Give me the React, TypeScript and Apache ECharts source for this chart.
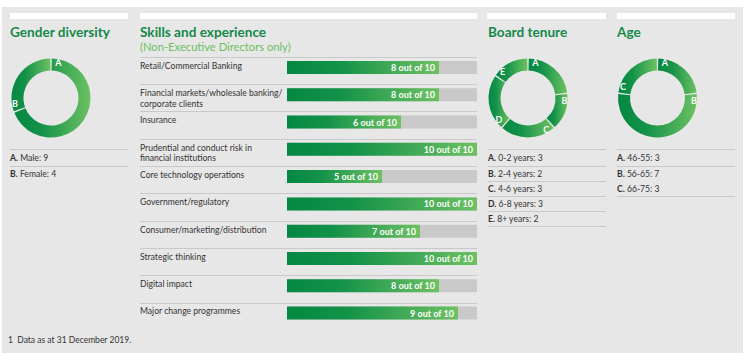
import React, { useEffect, useRef } from 'react';
import * as echarts from 'echarts';

const skillCategories = [
  'Retail/Commercial Banking',
  'Financial markets/wholesale banking/\ncorporate clients',
  'Insurance',
  'Prudential and conduct risk in\nfinancial institutions',
  'Core technology operations',
  'Government/regulatory',
  'Consumer/marketing/distribution',
  'Strategic thinking',
  'Digital impact',
  'Major change programmes',
];
const skillValues = [8, 8, 6, 10, 5, 10, 7, 10, 8, 9];
const skillMax = 10;

const genderNames = ['Male', 'Female'];
const genderValues = [9, 4];
const tenureNames = ['0-2 years', '2-4 years', '4-6 years', '6-8 years', '8+ years'];
const tenureValues = [3, 2, 3, 3, 2];
const ageNames = ['46-55', '56-65', '66-75'];
const ageValues = [3, 7, 3];
const letters = ['A', 'B', 'C', 'D', 'E'];

const titles = ['Gender diversity', 'Skills and experience', 'Board tenure', 'Age'];
const subtitle = '(Non-Executive Directors only)';
const footnote = '1  Data as at 31 December 2019.';

const FONT = 'Lato, "Noto Sans", sans-serif';
const BG = '#e7e7e7';
const TITLE_GREEN = '#15894a';
const LIGHT_GREEN = '#6cbf5f';
const TEXT = '#333333';
const LINE = '#c9c9c9';

const grad = () =>
  new echarts.graphic.LinearGradient(0, 0, 1, 0, [
    { offset: 0, color: '#048842' },
    { offset: 0.35, color: '#139249' },
    { offset: 1, color: '#6dc162' },
  ]);

const RADIUS = [27.5, 39.5];

function pieSeries(values: number[], center: number[]) {
  const total = values.reduce((a, b) => a + b, 0);
  const off = (total * 23) / 360;
  const ring = {
    type: 'pie',
    center,
    radius: RADIUS,
    startAngle: 90,
    padAngle: 2.2,
    silent: true,
    label: { show: false },
    labelLine: { show: false },
    emphasis: { disabled: true },
    data: values.map((v, i) => ({ value: v, name: letters[i], itemStyle: { color: grad() } })),
  };
  const overlay = {
    type: 'pie',
    center,
    radius: RADIUS,
    startAngle: 90,
    silent: true,
    z: 3,
    emphasis: { disabled: true },
    itemStyle: { color: 'rgba(0,0,0,0)' },
    labelLine: { show: false },
    label: {
      show: true,
      position: 'inside',
      color: '#ffffff',
      fontSize: 9,
      fontWeight: 'bold',
      fontFamily: FONT,
      formatter: (p: any) => p.data.letter || '',
    },
    data: values.flatMap((v, i) => [
      { value: off, letter: letters[i] },
      { value: v - off, letter: '', label: { show: false } },
    ]),
  };
  return [ring, overlay];
}

function legendGraphics(x: number, names: string[], values: number[], sepAfter: boolean[]) {
  const els: any[] = [];
  const w = 118;
  const lineY = (i: number) => (i === 0 ? 166 : 166 + 15 * i);
  els.push({ type: 'line', shape: { x1: x, y1: 149.5, x2: x + w, y2: 149.5 }, style: { stroke: LINE, lineWidth: 1 } });
  names.forEach((n, i) => {
    const ty = i === 0 ? 157.5 : 173.5 + 15 * (i - 1);
    els.push({
      type: 'text',
      x,
      y: ty,
      style: {
        text: `{b|${letters[i]}.} ${n}: ${values[i]}`,
        rich: { b: { fontWeight: 'bold', fontSize: 8.6, fontFamily: FONT, fill: TEXT, color: TEXT } },
        fontSize: 8.6,
        fontFamily: FONT,
        fill: TEXT,
        textVerticalAlign: 'middle',
        verticalAlign: 'middle',
      },
    });
    if (sepAfter[i]) {
      const ly = lineY(i) + 0.5;
      els.push({ type: 'line', shape: { x1: x, y1: ly, x2: x + w, y2: ly }, style: { stroke: LINE, lineWidth: 1 } });
    }
  });
  return els;
}

export default function App() {
  const ref = useRef<HTMLDivElement>(null);
  useEffect(() => {
    document.body.style.margin = '0';
    const chart = echarts.init(ref.current!, null, { renderer: 'svg' });
    const barWidth = 13;
    chart.setOption({
      animation: false,
      backgroundColor: '#ffffff',
      grid: { left: 287, right: 273, top: 53.75, bottom: 34.25, containLabel: false },
      xAxis: { type: 'value', min: 0, max: skillMax, show: false },
      yAxis: { type: 'category', data: skillCategories, inverse: true, show: false },
      series: [
        {
          type: 'bar',
          data: skillCategories.map(() => skillMax),
          barWidth,
          silent: true,
          itemStyle: { color: '#c9c9c9' },
          label: {
            show: true,
            position: [-147, -0.4],
            align: 'left',
            verticalAlign: 'top',
            formatter: '{b}',
            color: TEXT,
            fontSize: 8.6,
            lineHeight: 10.5,
            fontFamily: FONT,
          },
        },
        {
          type: 'bar',
          data: skillValues,
          barWidth,
          barGap: '-100%',
          silent: true,
          itemStyle: { color: grad() },
          label: {
            show: true,
            position: 'insideRight',
            distance: 4,
            formatter: (p: any) => `${p.value} out of ${skillMax}`,
            color: '#ffffff',
            fontSize: 9,
            fontWeight: 'bold',
            fontFamily: FONT,
          },
        },
        ...pieSeries(genderValues, [51, 98]),
        ...pieSeries(tenureValues, [528, 98]),
        ...pieSeries(ageValues, [657.5, 98]),
      ],
    });

    const rowCenters = skillCategories.map((_, i) => chart.convertToPixel({ yAxisIndex: 0 }, i) as number);
    const titleX = [10, 140, 488, 617];
    const barX = [
      [10, 128],
      [140, 477],
      [487, 606],
      [617, 735],
    ];
    const graphic: any[] = [
      { type: 'rect', z: -10, shape: { x: 2, y: 7, width: 741, height: 346 }, style: { fill: BG } },
      ...barX.map(([a, b]) => ({ type: 'rect', z: -5, shape: { x: a, y: 13, width: b - a, height: 6 }, style: { fill: '#ffffff' } })),
      ...titles.map((t, i) => ({
        type: 'text',
        x: titleX[i],
        y: 32,
        style: {
          text: t,
          fontSize: 13.6,
          fontWeight: 'bold',
          fontFamily: FONT,
          fill: TITLE_GREEN,
          textVerticalAlign: 'middle',
          verticalAlign: 'middle',
        },
      })),
      {
        type: 'text',
        x: 140,
        y: 46.5,
        style: { text: subtitle, fontSize: 11.2, fontFamily: FONT, fill: LIGHT_GREEN, textVerticalAlign: 'middle', verticalAlign: 'middle' },
      },
      ...rowCenters.map((c) => ({
        type: 'line',
        shape: { x1: 140, y1: Math.round(c - 10.5) + 0.5, x2: 477, y2: Math.round(c - 10.5) + 0.5 },
        style: { stroke: LINE, lineWidth: 1 },
      })),
      ...legendGraphics(10, genderNames, genderValues, [true, false]),
      ...legendGraphics(488, tenureNames, tenureValues, [true, true, true, true, true]),
      ...legendGraphics(617, ageNames, ageValues, [true, false, true]),
      {
        type: 'text',
        x: 8,
        y: 340,
        style: { text: footnote, fontSize: 8.5, fontFamily: FONT, fill: TEXT, textVerticalAlign: 'middle', verticalAlign: 'middle' },
      },
    ];
    chart.setOption({ graphic });
    return () => chart.dispose();
  }, []);
  return <div ref={ref} style={{ width: 750, height: 361 }} />;
}
